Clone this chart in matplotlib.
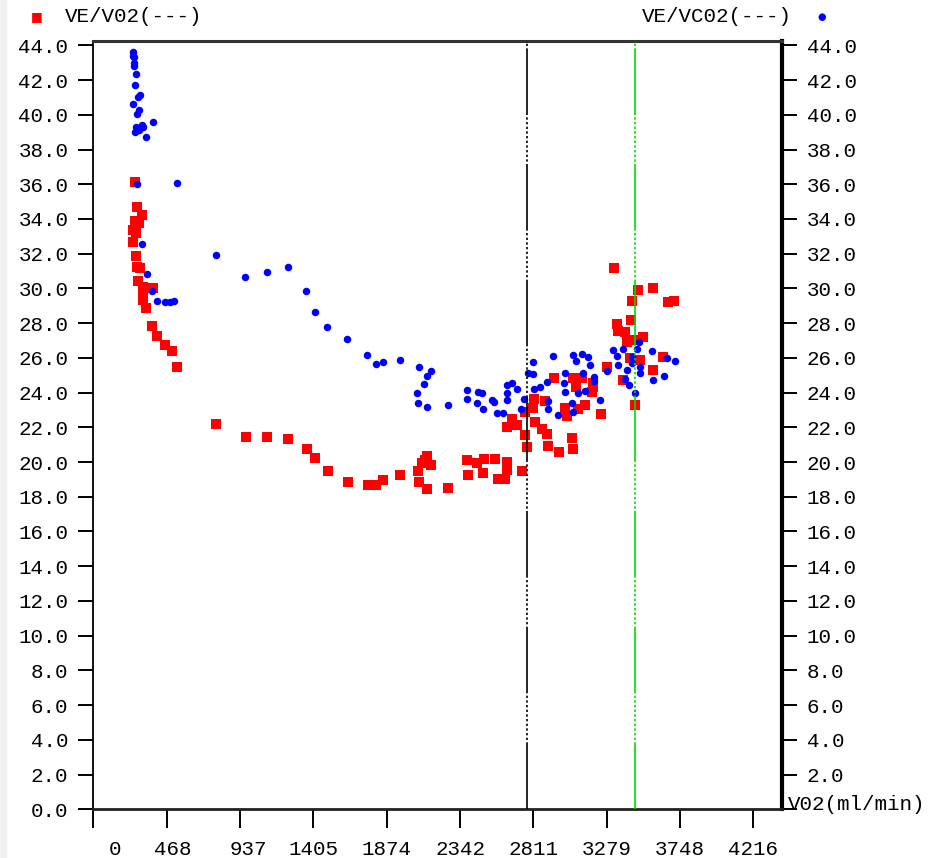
import matplotlib
matplotlib.use("Agg")
import matplotlib.pyplot as plt
import matplotlib.transforms as mtransforms
from matplotlib.patches import Rectangle

# VE/VO2 (red squares) against VO2 in ml/min
ve_vo2_x = [266, 281, 309, 266, 294, 255, 273, 252, 273, 277, 298, 287, 316, 383, 319, 316,
            337, 373, 405, 458, 500, 533, 784, 975, 1109, 1245, 1363, 1416, 1499, 1629, 1756,
            1803, 1852, 1959, 2076, 2097, 2118, 2133, 2155, 2082, 2133, 2267, 2389, 2391, 2449,
            2495, 2487, 2566, 2587, 2629, 2640, 2640, 2736, 2644, 2672, 2708, 2757, 2768, 2757,
            2816, 2810, 2821, 2864, 2899, 2906, 2976, 2885, 2942, 3013, 3023, 3055, 3066, 3066,
            3119, 3083, 3140, 3097, 3193, 3183, 3240, 3326, 3481, 3573, 3439, 3672, 3709, 3432,
            3343, 3353, 3396, 3513, 3407, 3445, 3492, 3430, 3640, 3279, 3576, 3385, 3193, 3460]
ve_vo2_y = [36.15, 34.7, 34.25, 33.9, 33.75, 33.35, 33.2, 32.7, 31.85, 31.25, 31.2, 30.45, 30.1,
            30.05, 29.75, 29.35, 28.85, 27.85, 27.25, 26.75, 26.4, 25.45, 22.2, 21.45, 21.45,
            21.3, 20.75, 20.25, 19.5, 18.85, 18.65, 18.65, 18.95, 19.25, 19.5, 19.95, 20.1, 20.35,
            19.85, 18.85, 18.45, 18.5, 20.1, 19.25, 19.95, 20.15, 19.35, 20.15, 19.05, 19.05,
            20.0, 19.55, 19.5, 22.0, 22.5, 22.15, 21.55, 20.85, 22.9, 23.65, 23.1, 22.3, 21.9,
            21.6, 20.95, 20.55, 23.5, 24.85, 23.1, 22.65, 21.4, 20.75, 24.85, 24.85, 24.3, 23.3,
            23.05, 24.55, 24.05, 22.75, 31.2, 29.9, 30.0, 29.25, 29.2, 29.25, 28.2, 27.95, 27.55,
            27.5, 27.2, 26.9, 27.05, 25.9, 26.0, 26.05, 25.5, 25.3, 24.75, 24.35, 23.3]

# VE/VCO2 (blue dots) against VO2 in ml/min
ve_vco2_x = [255, 254, 260, 260, 260, 273, 266, 298, 285, 254, 292, 277, 379, 273, 309, 266,
             292, 337, 317, 277, 536, 309, 784, 969, 1107, 1245, 345, 373, 409, 458, 490, 515,
             1358, 1414, 1493, 1623, 1750, 1804, 1852, 1957, 2082, 2155, 2129, 2112, 2069, 2074,
             2129, 2267, 2389, 2385, 2455, 2484, 2452, 2487, 2544, 2561, 2580, 2618, 2640, 2640,
             2644, 2672, 2708, 2730, 2751, 2774, 2810, 2810, 2815, 2853, 2899, 2938, 2902, 2906,
             2970, 3013, 3008, 3013, 3059, 3062, 3066, 3083, 3119, 3126, 3161, 3172, 3097, 3140,
             3198, 3198, 3236, 3487, 3470, 3321, 3385, 3566, 3343, 3439, 3662, 3715, 3353, 3439,
             3492, 3279, 3407, 3492, 3576, 3645, 3396, 3423, 3460]
ve_vco2_y = [43.6, 43.4, 43.3, 43.0, 42.8, 42.35, 41.7, 41.15, 41.0, 40.6, 40.25, 40.05, 39.6,
             39.3, 39.4, 39.0, 39.1, 38.7, 39.3, 36.0, 36.05, 32.55, 31.9, 30.65, 30.95, 31.25,
             30.85, 29.85, 29.3, 29.2, 29.2, 29.25, 29.85, 28.65, 27.8, 27.1, 26.15, 25.65, 25.75,
             25.85, 25.5, 25.25, 24.95, 24.5, 24.0, 23.4, 23.15, 23.3, 24.15, 23.65, 24.05, 23.95,
             23.4, 23.05, 23.55, 23.45, 22.85, 22.8, 23.95, 23.55, 24.45, 24.55, 24.2, 23.05,
             23.65, 25.15, 25.75, 25.05, 24.2, 24.35, 24.6, 26.1, 23.5, 23.05, 22.7, 25.15, 24.55,
             24.05, 23.4, 22.9, 26.15, 25.8, 26.25, 25.15, 26.05, 25.6, 23.95, 24.1, 24.9, 24.65,
             23.55, 26.9, 26.5, 26.45, 26.5, 26.4, 26.1, 26.05, 26.0, 25.8, 25.6, 25.7, 25.45,
             25.25, 25.3, 25.15, 24.75, 24.95, 24.8, 24.45, 24.0]

# threshold markers (VO2)
vt1_vo2 = 2772
vt2_vo2 = 3461

x_ticks = [0, 468, 937, 1405, 1874, 2342, 2811, 3279, 3748, 4216]
x_tick_pos = [i * 4216 / 9 for i in range(10)]
y_ticks = list(range(0, 45, 2))

mono = "Liberation Mono"
fs = 15

fig = plt.figure(figsize=(9.39, 8.58), dpi=100)
ax = fig.add_axes([93.3 / 939, 1 - 809.3 / 858, (781.7 - 93.3) / 939, (809.3 - 41) / 858])

ax.plot(ve_vo2_x, ve_vo2_y, ls="none", marker="s", ms=6.8, color="#ff0000", mew=0, zorder=2)
ax.plot(ve_vco2_x, ve_vco2_y, ls="none", marker="o", ms=5.4, color="#0000ff", mew=0, zorder=3)

pattern = [40, 1.4] + [1.4, 1.4] * 10
ax.axvline(vt1_vo2, color="black", lw=1.2, dashes=pattern, zorder=4)
ax.axvline(vt2_vo2, color="#00dd00", lw=1.2, dashes=pattern, zorder=4)

ax.set_xlim(0, 4397)
ax.set_ylim(0, 44.25)

ax.set_yticks(y_ticks)
ax.set_yticklabels(["%.1f" % v for v in y_ticks], family=mono, fontsize=fs)
ax.yaxis.set_ticks_position("both")
ax.tick_params(axis="y", direction="out", length=11, width=1.4, pad=7, labelright=True)
# the axis title takes the place of the right-hand 0.0
ax.yaxis.get_major_ticks()[0].label2.set_visible(False)

ax.set_xticks(x_tick_pos)
ax.set_xticklabels([str(v) for v in x_ticks], family=mono, fontsize=fs)
ax.tick_params(axis="x", direction="out", length=13.5, width=1.4, pad=8.5)
# the first labels sit a little right of their ticks
shifts = [22, 6, 8, 0, 0, 0, 0, 0, 0, 0]
for lab, dx in zip(ax.get_xticklabels(), shifts):
    lab.set_transform(lab.get_transform() + mtransforms.ScaledTranslation(dx / 100, 0, fig.dpi_scale_trans))

ax.spines["top"].set_linewidth(2.2)
ax.spines["top"].set_color("#333333")
ax.spines["left"].set_linewidth(1.3)
ax.spines["bottom"].set_linewidth(2.0)
ax.spines["bottom"].set_color("#222222")
ax.spines["right"].set_linewidth(3.0)

# series captions above the plot
fig.text(37 / 939, 1 - 17 / 858, "\u25a0", color="#ff0000", fontsize=9, ha="center", va="center")
fig.text(65 / 939, 1 - 17 / 858, "VE/V02(---)", family=mono, fontsize=fs, ha="left", va="center")
fig.text(792 / 939, 1 - 17 / 858, "VE/VC02(---)", family=mono, fontsize=fs, ha="right", va="center")
fig.text(822 / 939, 1 - 17 / 858, "\u25cf", color="#0000ff", fontsize=7, ha="center", va="center")
fig.text(788 / 939, 1 - 805 / 858, "V02(ml/min)", family=mono, fontsize=fs, ha="left", va="center")

fig.patches.append(Rectangle((0, 0), 6 / 939, 1, transform=fig.transFigure, color="#f0f0f0", zorder=0))

fig.savefig("out.png", dpi=100)
